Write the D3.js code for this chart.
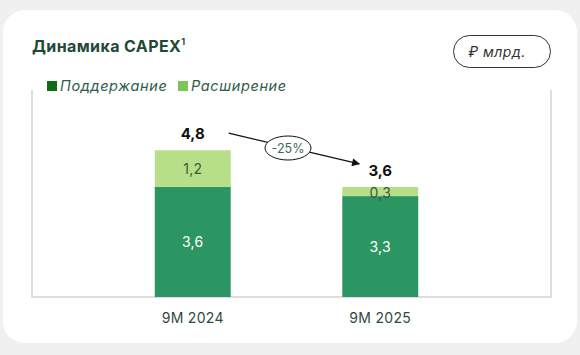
<!DOCTYPE html>
<html><head><meta charset="utf-8">
<script src="https://cdn.jsdelivr.net/npm/d3@7"></script>
<style>body{margin:0;background:#f0f0f0;}svg{display:block;font-family:Inter,"Open Sans",sans-serif;}</style>
</head><body><svg id="c" width="580" height="355"></svg>
<script>
const categories = ["9M 2024", "9M 2025"];
const maintenance = [3.6, 3.3];
const expansion = [1.2, 0.3];
const totals = [4.8, 3.6];
const seriesNames = ["Поддержание", "Расширение"];
const changeLabel = "-25%";
const title = "Динамика CAPEX";
const unit = "₽ млрд.";
const fmt = v => String(v.toFixed(1)).replace(".", ",");

const svg = d3.select("#c");
svg.append("rect").attr("x",3).attr("y",10).attr("width",574).attr("height",333).attr("rx",22).attr("fill","#fff");

const pL=32, pR=551, pB=297, pT=90;
const x = d3.scaleBand().domain(categories).range([61,512]).paddingInner(0.595).paddingOuter(0.5);
const y = d3.scaleLinear().domain([0,6.77]).range([pB,pT]);

// frame
svg.append("path").attr("d",`M${pL},${pT}V${pB}H${pR}V${pT}`).attr("fill","none").attr("stroke","#d4d4d4").attr("stroke-width",1.5);

// title
const t = svg.append("text").attr("x",32).attr("y",52).attr("fill","#1f4a38").attr("font-size",16).attr("font-weight",700).attr("letter-spacing",0.4).text(title);
t.append("tspan").attr("font-size",9).attr("dy",-7).text("1");

// unit pill
svg.append("rect").attr("x",453.5).attr("y",35.5).attr("width",97).attr("height",32).attr("rx",16).attr("fill","#fff").attr("stroke","#333").attr("stroke-width",1);
svg.append("text").attr("x",497).attr("y",56.5).attr("text-anchor","middle").attr("font-size",14).attr("letter-spacing",0.5).attr("font-style","italic").attr("fill","#333").text(unit);

// legend
const legCols = ["#0f6e12","#7cc55a"];
const legX = [47, 178];
seriesNames.forEach((n,i)=>{
  svg.append("rect").attr("x",legX[i]).attr("y",81).attr("width",10).attr("height",10).attr("fill",legCols[i]);
  svg.append("text").attr("x",legX[i]+13).attr("y",91).attr("font-size",14.5).attr("letter-spacing",0.6).attr("font-style","italic").attr("fill","#2f5c4a").text(n);
});

const darkC = "#2c9662", lightC = "#b6df88";
categories.forEach((c,i)=>{
  const bx = x(c), bw = x.bandwidth(), cx = bx+bw/2;
  svg.append("rect").attr("x",bx).attr("y",y(maintenance[i])).attr("width",bw).attr("height",y(0)-y(maintenance[i])).attr("fill",darkC);
  svg.append("rect").attr("x",bx).attr("y",y(maintenance[i]+expansion[i])).attr("width",bw).attr("height",y(maintenance[i])-y(maintenance[i]+expansion[i])).attr("fill",lightC);
  svg.append("text").attr("x",cx).attr("y",(y(maintenance[i])+y(0))/2+5).attr("text-anchor","middle").attr("font-size",14).attr("letter-spacing",0.3).attr("fill","#fff").text(fmt(maintenance[i]));
  const my = (y(maintenance[i])+y(maintenance[i]+expansion[i]))/2;
  svg.append("text").attr("x",cx).attr("y",expansion[i]<0.5? my+6 : my+5).attr("text-anchor","middle").attr("font-size",14).attr("letter-spacing",0.3).attr("fill","#3d5a3d").text(fmt(expansion[i]));
  svg.append("text").attr("x",cx).attr("y",y(totals[i])-11).attr("text-anchor","middle").attr("font-size",15).attr("font-weight",700).attr("fill","#111").text(fmt(totals[i]));
  svg.append("text").attr("x",cx).attr("y",pB+26).attr("text-anchor","middle").attr("font-size",14).attr("letter-spacing",0.3).attr("fill","#2f4a40").text(c);
});

// arrow
svg.append("defs").append("marker").attr("id","ah").attr("viewBox","0 0 10 10").attr("refX",9).attr("refY",5)
  .attr("markerWidth",9).attr("markerHeight",8).attr("markerUnits","userSpaceOnUse").attr("orient","auto")
  .append("path").attr("d","M0,0L10,5L0,10z").attr("fill","#111");
const ax0 = x(categories[0])+x.bandwidth()-2, ay0 = y(totals[0])-17;
const ax1 = x(categories[1])+17, ay1 = y(totals[1])-23;
svg.append("line").attr("x1",ax0).attr("y1",ay0).attr("x2",ax1).attr("y2",ay1).attr("stroke","#111").attr("stroke-width",1.3).attr("marker-end","url(#ah)");
const ex = 288, ey = 148;
svg.append("ellipse").attr("cx",ex).attr("cy",ey).attr("rx",23).attr("ry",12).attr("fill","#fff").attr("stroke","#111").attr("stroke-width",1);
svg.append("text").attr("x",ex).attr("y",ey+4.5).attr("text-anchor","middle").attr("font-size",12.5).attr("fill","#3c6a5a").text(changeLabel);
</script></body></html>
